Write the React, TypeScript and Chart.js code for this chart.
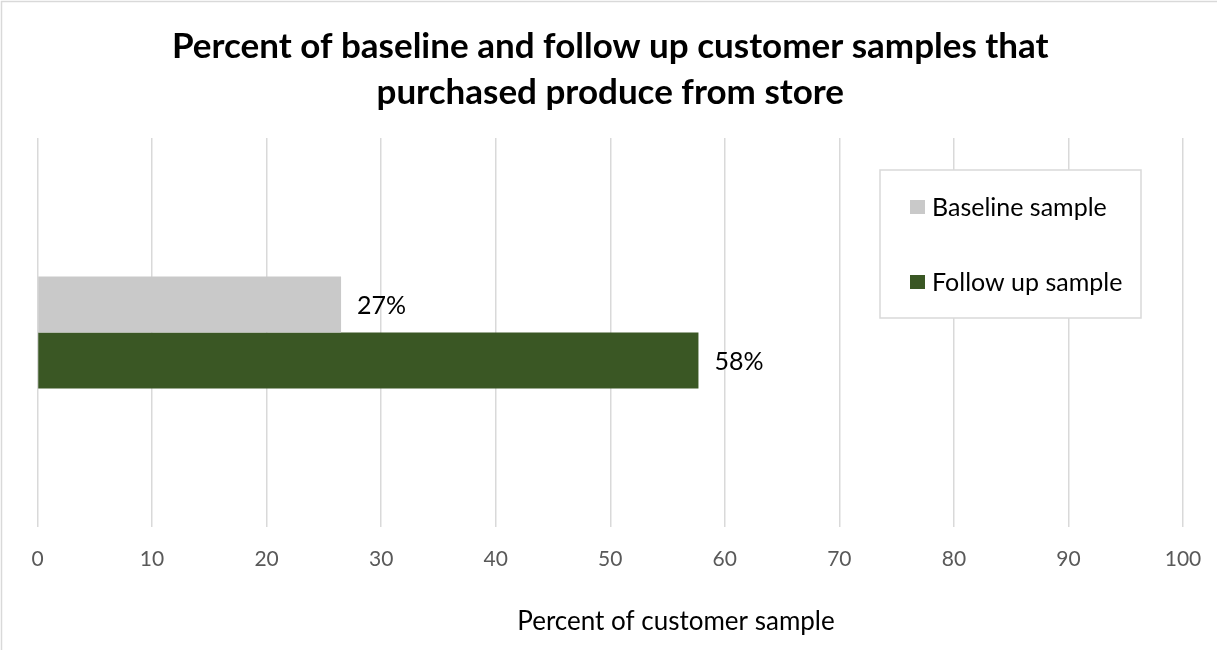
import React, { useEffect, useRef } from "react";
import { Chart, registerables } from "chart.js";

Chart.register(...registerables);

// Chart content
const categories = ["Purchased produce from store"];
const seriesLabels = ["Baseline sample", "Follow up sample"];
const baselineValues = [26.5];
const followUpValues = [57.7];
const seriesColors = ["#c9c9c9", "#3a5724"];
const axisMin = 0;
const axisMax = 100;
const axisStep = 10;
const titleLines = [
  "Percent of baseline and follow up customer samples that",
  "purchased produce from store",
];
const axisTitle = "Percent of customer sample";

const FONT = "Lato, 'Open Sans', sans-serif";
const WIDTH = 1217;
const HEIGHT = 650;

// White background and the outer frame line
const framePlugin = {
  id: "frame",
  beforeDraw(chart: any) {
    const { ctx, width, height } = chart;
    ctx.save();
    ctx.fillStyle = "#ffffff";
    ctx.fillRect(0, 0, width, height);
    ctx.strokeStyle = "#d9d9d9";
    ctx.lineWidth = 1.5;
    ctx.strokeRect(1.5, 1.5, width + 10, height + 10);
    ctx.restore();
  },
};

// Percent labels to the right of each bar
const valueLabelPlugin = {
  id: "valueLabels",
  afterDatasetsDraw(chart: any) {
    const { ctx } = chart;
    ctx.save();
    ctx.font = `25px ${FONT}`;
    ctx.fillStyle = "#000000";
    ctx.textAlign = "left";
    ctx.textBaseline = "middle";
    chart.data.datasets.forEach((ds: any, i: number) => {
      const meta = chart.getDatasetMeta(i);
      meta.data.forEach((bar: any, j: number) => {
        const v = ds.data[j] as number;
        ctx.fillText(`${Math.round(v)}%`, bar.x + 16, bar.y + 1);
      });
    });
    ctx.restore();
  },
};

// Boxed legend inside the plot area
const legendBoxPlugin = {
  id: "legendBox",
  afterDraw(chart: any) {
    const { ctx, chartArea } = chart;
    const bx = chartArea.right - 303;
    const by = chartArea.top + 32;
    const bw = 261;
    const bh = 148;
    ctx.save();
    ctx.fillStyle = "#ffffff";
    ctx.fillRect(bx, by, bw, bh);
    ctx.strokeStyle = "#d9d9d9";
    ctx.lineWidth = 1.5;
    ctx.strokeRect(bx, by, bw, bh);
    ctx.font = `25px ${FONT}`;
    ctx.textAlign = "left";
    ctx.textBaseline = "middle";
    chart.data.datasets.forEach((ds: any, i: number) => {
      const cy = by + 37 + i * 75;
      ctx.fillStyle = ds.backgroundColor;
      ctx.fillRect(bx + 30, cy - 7, 15, 14);
      ctx.fillStyle = "#000000";
      ctx.fillText(ds.label, bx + 52, cy + 1);
    });
    ctx.restore();
  },
};

// Horizontal axis title below the tick labels
const axisTitlePlugin = {
  id: "axisTitle",
  afterDraw(chart: any) {
    const { ctx } = chart;
    ctx.save();
    ctx.font = `26px ${FONT}`;
    ctx.fillStyle = "#000000";
    ctx.textAlign = "center";
    ctx.textBaseline = "middle";
    ctx.fillText(axisTitle, 676, 622);
    ctx.restore();
  },
};

export default function App() {
  const canvasRef = useRef<HTMLCanvasElement | null>(null);

  useEffect(() => {
    if (!canvasRef.current) return;
    const chart = new Chart(canvasRef.current, {
      type: "bar",
      data: {
        labels: categories,
        datasets: [
          {
            label: seriesLabels[0],
            data: baselineValues,
            backgroundColor: seriesColors[0],
            categoryPercentage: 0.288,
            barPercentage: 1,
          },
          {
            label: seriesLabels[1],
            data: followUpValues,
            backgroundColor: seriesColors[1],
            categoryPercentage: 0.288,
            barPercentage: 1,
          },
        ],
      },
      options: {
        indexAxis: "y",
        responsive: false,
        animation: false,
        devicePixelRatio: 1,
        layout: {
          padding: { left: 37.5, right: 34, top: 0, bottom: 73 },
        },
        scales: {
          x: {
            min: axisMin,
            max: axisMax,
            border: { display: false },
            grid: {
              color: "#d9d9d9",
              lineWidth: 1.5,
              drawTicks: false,
            },
            ticks: {
              stepSize: axisStep,
              color: "#595959",
              padding: 20,
              font: { family: FONT, size: 21 },
            },
            afterFit(scale: any) {
              // fixed band for the tick labels; outer margins come from layout padding
              scale.height = 50;
              scale.paddingLeft = 0;
              scale.paddingRight = 0;
            },
          },
          y: {
            display: false,
          },
        },
        plugins: {
          legend: { display: false },
          tooltip: { enabled: false },
          title: {
            display: true,
            text: titleLines,
            color: "#000000",
            font: { family: FONT, size: 35, weight: "bold", lineHeight: 1.3 },
            padding: { top: 24, bottom: 23 },
          },
        },
      },
      plugins: [framePlugin, valueLabelPlugin, legendBoxPlugin, axisTitlePlugin],
    });
    return () => chart.destroy();
  }, []);

  return (
    <div style={{ position: "fixed", left: 0, top: 0, width: WIDTH, height: HEIGHT }}>
      <canvas ref={canvasRef} width={WIDTH} height={HEIGHT} />
    </div>
  );
}
